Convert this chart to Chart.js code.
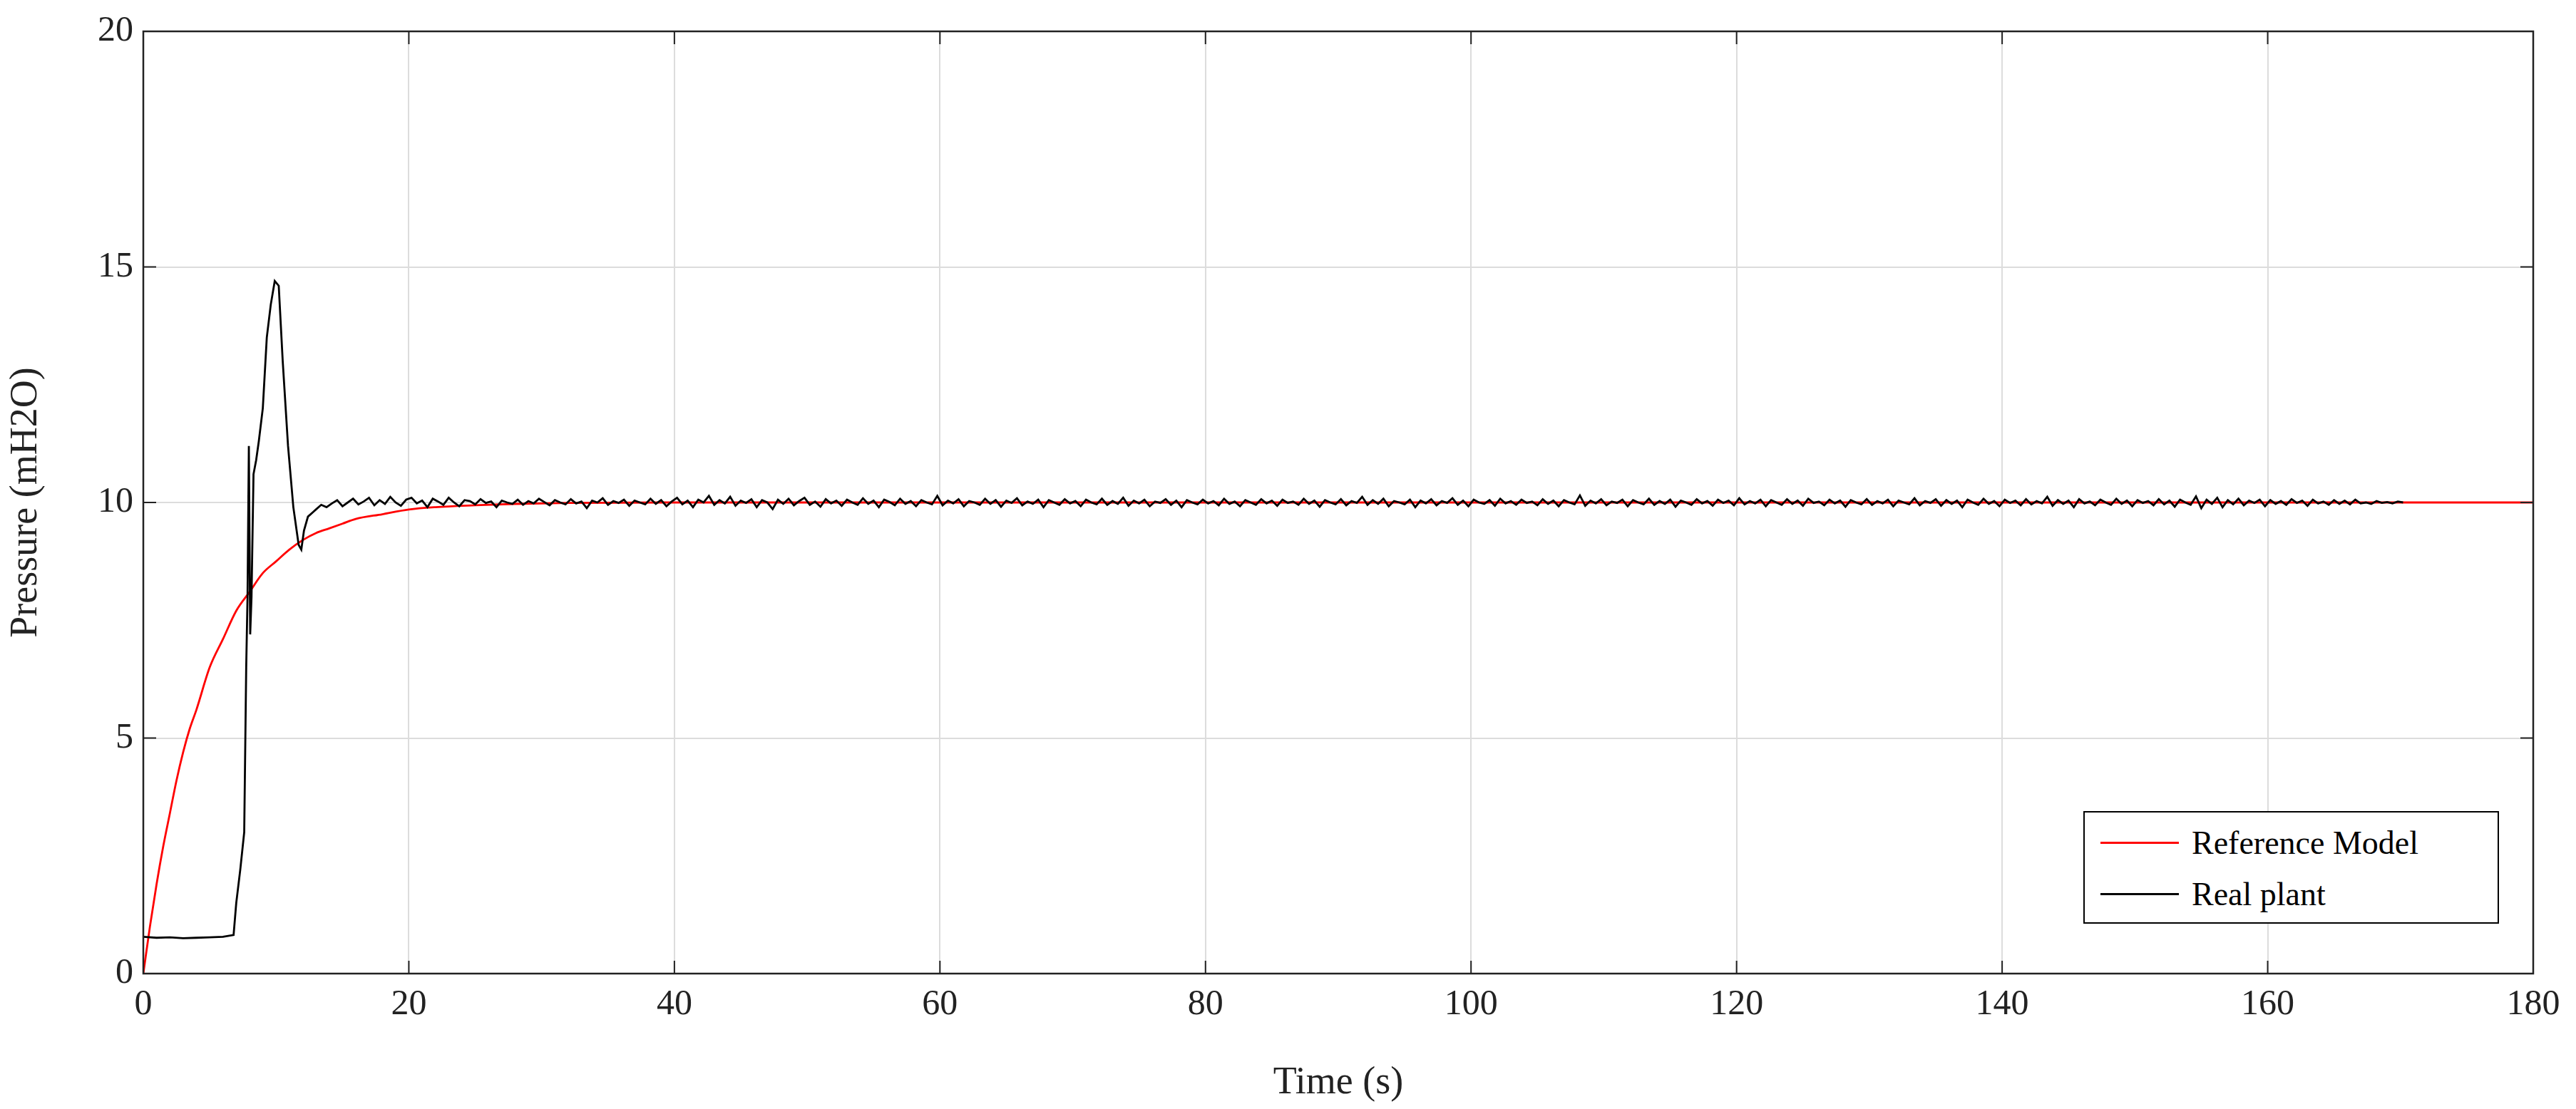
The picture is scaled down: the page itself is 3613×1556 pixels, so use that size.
<!DOCTYPE html>
<html><head><meta charset="utf-8">
<script src="https://cdn.jsdelivr.net/npm/chart.js@4"></script>
<style>
html,body{margin:0;padding:0;background:#fff;}
#wrap{position:relative;width:3613px;height:1556px;}
#legend{position:absolute;left:2922px;top:1138px;width:583px;height:158px;border:2px solid #000;background:#fff;font-family:"Liberation Serif",serif;font-size:46px;box-sizing:border-box;}
.row{position:absolute;left:22px;height:60px;display:flex;align-items:center;}
.sw{width:110px;height:0;border-top:3px solid;margin-right:18px;}
</style></head><body>
<div id="wrap"><canvas id="c" width="3613" height="1556"></canvas>
<div id="legend">
<div class="row" style="top:12px"><span class="sw" style="border-color:#ff0000"></span>Reference Model</div>
<div class="row" style="top:84px"><span class="sw" style="border-color:#000"></span>Real plant</div>
</div></div>
<script>
const xTicks=[0,20,40,60,80,100,120,140,160,180];
const yTicks=[0,5,10,15,20];
const refTime=[0,0.5,1,1.5,2,2.5,3,3.5,4,5,6,7,8,9,10,11,12,13,14,15,16,18,20,22,25,28,32,40,60,100,180];
const refValues=[0,1.0,1.9,2.7,3.4,4.1,4.7,5.2,5.6,6.5,7.1,7.7,8.1,8.5,8.75,9.0,9.2,9.35,9.45,9.55,9.65,9.75,9.85,9.9,9.94,9.97,9.99,10,10,10,10];
const plantTime=[0,1,2,3,4,5,6,6.8,7.0,7.3,7.6,7.75,7.85,7.95,8.05,8.15,8.3,8.5,8.7,9.0,9.3,9.6,9.9,10.2,10.5,10.9,11.3,11.7,11.9,12.1,12.4,12.8];
const plantValues=[0.78,0.76,0.77,0.75,0.76,0.77,0.78,0.82,1.5,2.2,3.0,6.5,8.0,11.2,7.2,8.0,10.6,10.9,11.3,12.0,13.5,14.2,14.7,14.6,13.0,11.2,9.9,9.1,9.0,9.4,9.7,9.8];
const noiseStart=13, noiseStep=0.4;
const plantNoise=[9.85,9.95,9.9,9.98,10.05,9.92,10.0,10.08,9.96,10.02,10.1,9.94,10.05,9.97,10.12,10.0,9.93,10.06,10.1,9.98,10.04,9.9,10.08,10.02,9.95,10.1,10.0,9.92,10.05,10.03,
9.96,10.07,9.99,10.02,9.9,10.04,10.0,9.97,10.06,9.95,10.03,9.98,10.08,10.01,9.94,10.05,10.0,9.96,10.07,9.98,10.02,9.88,10.04,10.0,10.09,9.95,10.03,9.99,10.06,9.93,
10.04,10.0,9.96,10.08,9.97,10.05,9.92,10.02,10.1,9.96,10.04,9.9,10.06,10.0,10.14,9.95,10.05,9.98,10.12,9.93,10.04,9.99,10.07,9.9,10.05,10.0,9.86,10.06,9.97,10.08,
9.94,10.03,10.1,9.95,10.02,9.91,10.07,9.98,10.04,9.93,10.06,10.0,9.95,10.09,9.97,10.04,9.9,10.06,10.01,9.94,10.08,9.97,10.03,9.92,10.05,10.0,9.96,10.14,9.94,10.04,
9.98,10.07,9.92,10.03,10.0,9.95,10.08,9.97,10.05,9.91,10.04,9.99,10.09,9.94,10.02,9.97,10.06,9.9,10.05,10.0,9.95,10.07,9.98,10.03,9.92,10.06,10.0,9.96,10.08,9.95,
10.03,9.97,10.1,9.93,10.04,9.98,10.06,9.92,10.02,9.99,10.07,9.95,10.04,9.9,10.05,10.0,9.96,10.06,9.98,10.03,9.94,10.08,9.97,10.02,9.92,10.05,10.0,9.95,10.07,9.98,
10.04,9.93,10.06,9.99,10.02,9.95,10.08,9.97,10.04,9.91,10.05,10.0,9.96,10.07,9.94,10.03,9.99,10.12,9.95,10.05,9.97,10.08,9.92,10.03,10.0,9.96,10.06,9.9,10.04,9.98,
10.07,9.94,10.03,9.99,10.09,9.95,10.04,9.92,10.06,10.0,9.97,10.05,9.93,10.08,9.98,10.03,9.95,10.06,9.99,10.02,9.94,10.07,9.97,10.04,9.92,10.05,10.0,9.96,10.15,9.93,
10.04,9.98,10.07,9.94,10.02,9.99,10.06,9.92,10.05,10.0,9.96,10.08,9.95,10.03,9.97,10.06,9.91,10.04,10.0,9.95,10.07,9.98,10.03,9.93,10.06,9.99,10.04,9.94,10.09,9.96,
10.03,9.98,10.06,9.92,10.05,10.0,9.95,10.07,9.97,10.04,9.93,10.08,9.99,10.02,9.94,10.06,9.98,10.04,9.91,10.05,10.0,9.96,10.07,9.95,10.03,9.98,10.06,9.92,10.04,10.0,
9.96,10.09,9.94,10.03,9.99,10.07,9.93,10.05,9.97,10.04,9.9,10.06,10.0,9.95,10.08,9.97,10.03,9.92,10.06,9.99,10.04,9.94,10.07,9.96,10.03,9.98,10.12,9.93,10.05,9.97,
10.04,9.9,10.07,9.98,10.02,9.94,10.06,10.0,9.95,10.08,9.97,10.04,9.92,10.05,9.99,10.03,9.94,10.07,9.96,10.04,9.91,10.06,10.0,9.95,10.13,9.88,10.06,9.97,10.1,9.9,
10.05,9.96,10.08,9.94,10.04,9.99,10.06,9.92,10.05,9.97,10.03,9.95,10.07,9.99,10.04,9.93,10.06,9.98,10.02,9.95,10.05,9.97,10.04,9.96,10.06,9.98,10.0,9.97,10.03,9.99,
10.01,9.98,10.02,10.0];
const plantData=plantTime.map((t,i)=>({x:t,y:plantValues[i]}));
plantNoise.forEach((v,i)=>{const t=noiseStart+i*noiseStep; if(t<=180) plantData.push({x:t,y:v});});
const refData=refTime.map((t,i)=>({x:t,y:refValues[i]}));
const frame={id:'frame',afterDraw(c){const a=c.chartArea,x=c.ctx;x.save();x.strokeStyle='#222';x.lineWidth=2.5;x.strokeRect(a.left,a.top,a.right-a.left,a.bottom-a.top);
x.lineWidth=2;x.beginPath();const sx=c.scales.x,sy=c.scales.y;
xTicks.forEach(t=>{const p=sx.getPixelForValue(t);x.moveTo(p,a.bottom);x.lineTo(p,a.bottom-18);x.moveTo(p,a.top);x.lineTo(p,a.top+18);});
yTicks.forEach(t=>{const p=sy.getPixelForValue(t);x.moveTo(a.left,p);x.lineTo(a.left+18,p);x.moveTo(a.right,p);x.lineTo(a.right-18,p);});
x.stroke();x.restore();}};
const font={family:'"Liberation Serif", serif',size:50};
new Chart(document.getElementById('c'),{type:'scatter',
data:{datasets:[
{label:'Real plant',data:plantData,showLine:true,borderColor:'#000',borderWidth:2.8,pointRadius:0,tension:0,order:1},
{label:'Reference Model',data:refData,showLine:true,borderColor:'#ff0000',borderWidth:2.8,pointRadius:0,tension:0.4,cubicInterpolationMode:'monotone',order:2}]},
options:{responsive:false,animation:false,layout:{padding:{top:38,right:60,left:0,bottom:0}},
plugins:{legend:{display:false},tooltip:{enabled:false}},
scales:{
x:{type:'linear',min:0,max:180,afterBuildTicks:s=>{s.ticks=xTicks.map(v=>({value:v}));},
afterFit:s=>{s.height=190;},
grid:{color:'#dcdcdc',lineWidth:2,drawTicks:false},border:{display:false},
ticks:{color:'#222',font,padding:14,maxRotation:0},
title:{display:true,text:'Time (s)',color:'#222',font:{family:font.family,size:54},padding:{top:6}}},
y:{type:'linear',min:0,max:20,afterBuildTicks:s=>{s.ticks=yTicks.map(v=>({value:v}));},
afterFit:s=>{s.width=201;},
grid:{color:'#dcdcdc',lineWidth:2,drawTicks:false},border:{display:false},
ticks:{color:'#222',font,padding:14},
title:{display:true,text:'Pressure (mH2O)',color:'#222',font:{family:font.family,size:54},padding:{bottom:10}}}}},
plugins:[frame]});
</script></body></html>
